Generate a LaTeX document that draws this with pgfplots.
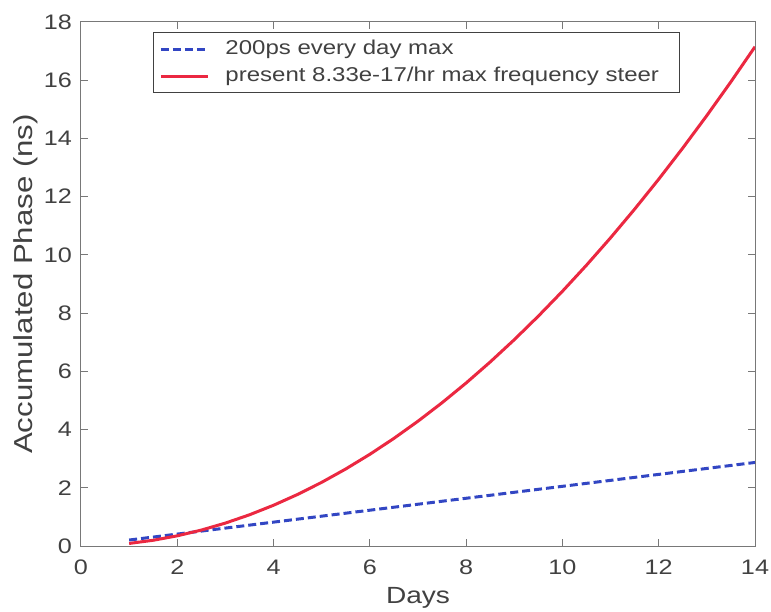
\documentclass[border=0pt]{standalone}
\usepackage{fontspec}
\setmainfont{Liberation Sans}[FakeStretch=1.2]
\usepackage{pgfplots}
\pgfplotsset{compat=1.18}
\definecolor{txtgray}{RGB}{65,65,65}
\definecolor{axgray}{RGB}{120,120,120}
\definecolor{lineblue}{RGB}{50,70,195}
\definecolor{linered}{RGB}{235,40,65}
\begin{document}
\begin{tikzpicture}
\begin{axis}[
    scale only axis,
    width=337pt, height=262pt,
    xmin=0, xmax=14, ymin=0, ymax=18,
    xtick={0,2,...,14}, ytick={0,2,...,18},
    tick align=inside,
    major tick length=3.5pt,
    axis line style={axgray, line width=0.5pt},
    tick style={axgray, line width=0.5pt},
    tick label style={font=\fontsize{10.5}{12}\selectfont, text=txtgray},
    xticklabel style={yshift=-3.5pt},
    yticklabel style={xshift=-1pt},
    /pgf/number format/assume math mode=true,
    xlabel={Days}, ylabel={Accumulated Phase (ns)},
    xlabel style={font=\fontsize{11.7}{13}\selectfont, text=txtgray,
        at={(axis description cs:0.5,-0.066)}, anchor=north},
    ylabel style={font=\fontsize{13}{15}\selectfont, text=txtgray,
        at={(axis description cs:-0.0534,0.5)}, anchor=south},
    legend style={at={(0.1068,0.980)}, anchor=north west, draw=txtgray,
        line width=0.5pt,
        font=\fontsize{10}{12}\selectfont, text=txtgray,
        inner xsep=3pt, inner ysep=1.5pt, row sep=0pt, column sep=5pt,
        nodes={inner xsep=3pt, inner ysep=1.75pt,
            text height=0.75em, text depth=0.25em}},
    legend cell align=left,
    legend image code/.code={\draw[#1] (0pt,0pt) -- (23.5pt,0pt);},
]
\addplot[lineblue, dash pattern=on 4pt off 2pt, line width=1.5pt] coordinates {
    (1,0.205) (14,2.87)
};
\addlegendentry{200ps every day max}
\addplot[linered, line width=1.5pt] coordinates {
    (1,0.0875) (1.5,0.197) (2,0.35) (2.5,0.547) (3,0.7875) (3.5,1.072)
    (4,1.4) (4.5,1.772) (5,2.1875) (5.5,2.647) (6,3.15) (6.5,3.697)
    (7,4.2875) (7.5,4.922) (8,5.6) (8.5,6.322) (9,7.0875) (9.5,7.897)
    (10,8.75) (10.5,9.647) (11,10.5875) (11.5,11.572) (12,12.6)
    (12.5,13.672) (13,14.7875) (13.5,15.947) (14,17.15)
};
\addlegendentry{present 8.33e-17/hr max frequency steer\hspace*{4pt}}
\end{axis}
\pgfresetboundingbox
\path[use as bounding box] (current axis.south west) ++(-40.5pt,-32.5pt)
    rectangle ([xshift=8pt,yshift=11pt]current axis.north east);
\end{tikzpicture}
\end{document}
